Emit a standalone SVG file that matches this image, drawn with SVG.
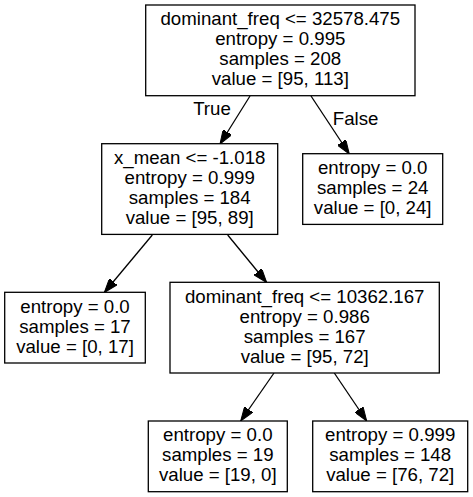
<svg xmlns="http://www.w3.org/2000/svg" width="473" height="497" viewBox="0 0 473 497">
<style>
.box{fill:#fff;stroke:#000;stroke-width:1.3}
text{font-family:"Liberation Sans",Arial,Helvetica,sans-serif;font-size:18.67px;fill:#000;text-anchor:middle}
.edge{fill:none;stroke:#000;stroke-width:1.3;marker-end:url(#arr)}
</style>
<defs>
<marker id="arr" viewBox="0 0 14 10" refX="14" refY="5" markerWidth="14" markerHeight="10" markerUnits="userSpaceOnUse" orient="auto">
<path d="M0,0 L14,5 L0,10 z" fill="#000" stroke="#000" stroke-width="1"/>
</marker>
</defs>
<rect width="473" height="497" fill="#fff"/>
<g id="connectors">
<line class="edge" x1="250" y1="96" x2="220" y2="144"/>
<line class="edge" x1="311" y1="96" x2="349.3" y2="154"/>
<line class="edge" x1="152.3" y1="235" x2="104.3" y2="292.5"/>
<line class="edge" x1="227.7" y1="235" x2="266.7" y2="282.5"/>
<line class="edge" x1="274" y1="373" x2="240.7" y2="421"/>
<line class="edge" x1="334.3" y1="373" x2="366.7" y2="421"/>
<text x="212" y="115">True</text>
<text x="355.6" y="125">False</text>
</g>
<g id="node0">
<rect class="box" x="145.7" y="5" width="269.3" height="90.7"/>
<text x="280.3" y="25.3">dominant_freq &lt;= 32578.475</text>
<text x="280.3" y="45.3">entropy = 0.995</text>
<text x="280.3" y="65.3">samples = 208</text>
<text x="280.3" y="85.3">value = [95, 113]</text>
</g>
<g id="node1">
<rect class="box" x="101.7" y="143.7" width="176" height="90.7"/>
<text x="189.7" y="164">x_mean &lt;= -1.018</text>
<text x="189.7" y="184">entropy = 0.999</text>
<text x="189.7" y="204">samples = 184</text>
<text x="189.7" y="224">value = [95, 89]</text>
</g>
<g id="node2">
<rect class="box" x="302.7" y="153.7" width="140" height="70.7"/>
<text x="372.7" y="174">entropy = 0.0</text>
<text x="372.7" y="194">samples = 24</text>
<text x="372.7" y="214">value = [0, 24]</text>
</g>
<g id="node3">
<rect class="box" x="4.7" y="292.3" width="140.6" height="70.7"/>
<text x="75" y="312.6">entropy = 0.0</text>
<text x="75" y="332.6">samples = 17</text>
<text x="75" y="352.6">value = [0, 17]</text>
</g>
<g id="node4">
<rect class="box" x="170" y="282.3" width="269.3" height="90.7"/>
<text x="304.7" y="302.6">dominant_freq &lt;= 10362.167</text>
<text x="304.7" y="322.6">entropy = 0.986</text>
<text x="304.7" y="342.6">samples = 167</text>
<text x="304.7" y="362.6">value = [95, 72]</text>
</g>
<g id="node5">
<rect class="box" x="148.3" y="421" width="139" height="70.7"/>
<text x="217.8" y="441.3">entropy = 0.0</text>
<text x="217.8" y="461.3">samples = 19</text>
<text x="217.8" y="481.3">value = [19, 0]</text>
</g>
<g id="node6">
<rect class="box" x="312.7" y="421" width="155" height="70.7"/>
<text x="390.2" y="441.3">entropy = 0.999</text>
<text x="390.2" y="461.3">samples = 148</text>
<text x="390.2" y="481.3">value = [76, 72]</text>
</g>
</svg>
